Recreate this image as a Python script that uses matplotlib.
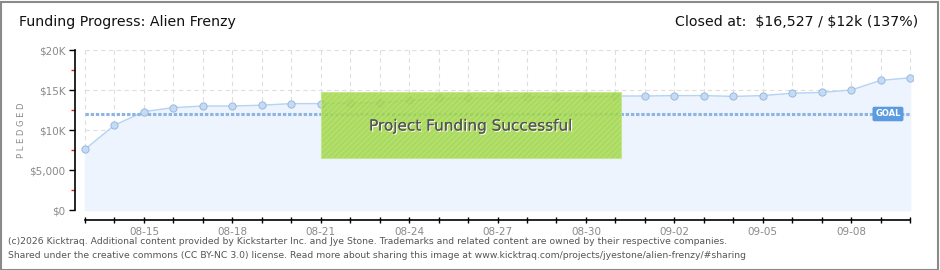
import matplotlib
matplotlib.use("Agg")
import matplotlib.pyplot as plt
import matplotlib.patheffects as pe
from matplotlib.patches import Rectangle
import numpy as np

plt.rcParams["hatch.color"] = "#93c93a"
plt.rcParams["hatch.linewidth"] = 0.6

# ---- data ----
dates = ["08-13", "08-14", "08-15", "08-16", "08-17", "08-18", "08-19", "08-20",
         "08-21", "08-22", "08-23", "08-24", "08-25", "08-26", "08-27", "08-28",
         "08-29", "08-30", "08-31", "09-01", "09-02", "09-03", "09-04", "09-05",
         "09-06", "09-07", "09-08", "09-09", "09-10"]
pledged = [7600, 10600, 12300, 12800, 13000, 13000, 13100, 13300,
           13300, 13400, 13400, 13700, 13950, 13950, 13950, 14100,
           14100, 14100, 14250, 14250, 14300, 14300, 14200, 14300,
           14600, 14700, 15000, 16200, 16527]
goal = 12000
ytick_vals = [0, 5000, 10000, 15000, 20000]
ytick_labels = ["$0", "$5,000", "$10K", "$15K", "$20K"]
success_start, success_end = "08-21", "08-31"
success_low, success_high = 6500, 14750

title = "Funding Progress: Alien Frenzy"
closed = r"Closed at:  \$16,527 / \$12k (137%)"
footer1 = ("(c)2026 Kicktraq. Additional content provided by Kickstarter Inc. and Jye Stone. "
           "Trademarks and related content are owned by their respective companies.")
footer2 = ("Shared under the creative commons (CC BY-NC 3.0) license. Read more about sharing "
           "this image at www.kicktraq.com/projects/jyestone/alien-frenzy/#sharing")

W, H = 940, 270
fig = plt.figure(figsize=(W / 100, H / 100), dpi=100)
fig.patch.set_facecolor("white")

# border
fig.add_artist(Rectangle((0.5 / W, 0.5 / H), 1 - 2.5 / W, 1 - 2.5 / H, transform=fig.transFigure,
                         fill=False, edgecolor="#8a8a8a", linewidth=1.5))

ax = fig.add_axes([75 / W, 1 - 220 / H, 838 / W, (220 - 50) / H])
x = np.arange(len(dates))
ax.set_xlim(-0.34, len(dates) - 1 + 0.1)
ax.set_ylim(-1250, 20000)

# grid
for xi in x:
    ax.plot([xi, xi], [0, 20000], color="#dedede", lw=0.8, dashes=(4, 3), zorder=1)
for yv in ytick_vals:
    ax.plot([x[0], x[-1]], [yv, yv], color="#dedede", lw=0.8, dashes=(4, 3), zorder=1)

ax.fill_between(x, pledged, 0, color="#edf4fd", zorder=2)
ax.plot(x, pledged, color="#b5d3f3", lw=1.0, zorder=3)
ax.plot(x, pledged, "o", ms=5.2, mfc="#c3dbf6", mec="#9bb8da", mew=0.7, zorder=4)

# goal line
ax.plot([x[0], x[-1]], [goal, goal], color="#8db4e2", lw=2.2, dashes=(1.1, 0.6),
        solid_capstyle="butt", dash_capstyle="butt", zorder=3)
ax.text(len(dates) - 1.75, goal, "GOAL", color="white", fontsize=6, fontweight="bold",
        ha="center", va="center", zorder=6,
        bbox=dict(boxstyle="round,pad=0.25,rounding_size=0.15", fc="#5b9be0", ec="#5b9be0"))

# success box
xs = dates.index(success_start)
xe = dates.index(success_end) + 0.2
ax.add_patch(Rectangle((xs, success_low), xe - xs, success_high - success_low,
                       facecolor="#9fd642", edgecolor="#c2e58a", lw=0.8, alpha=0.85,
                       hatch="//////", zorder=5))
ax.text((xs + xe) / 2, 10500, "Project Funding Successful", ha="center", va="center",
        fontsize=11, color="#555555", zorder=7,
        path_effects=[pe.withSimplePatchShadow(offset=(0.8, -0.8), shadow_rgbFace="white", alpha=1),
                      pe.Normal()])

# spines
for s in ["top", "right"]:
    ax.spines[s].set_visible(False)
ax.spines["left"].set_bounds(0, 20000)
ax.spines["bottom"].set_bounds(x[0], x[-1])
ax.spines["left"].set_linewidth(1.2)
ax.spines["bottom"].set_linewidth(1.2)
ax.spines["bottom"].set_position(("data", -1250))

ax.set_yticks(ytick_vals)
ax.set_yticklabels(ytick_labels)
ax.set_yticks([2500, 7500, 12500, 17500], minor=True)
ax.tick_params(axis="y", which="major", length=4, width=1, color="black",
               labelsize=7.5, labelcolor="#8a8a8a", pad=3)
ax.tick_params(axis="y", which="minor", length=3, width=1, color="#e02020")

ax.set_xticks(x)
ax.set_xticklabels([d if (i - 2) % 3 == 0 else "" for i, d in enumerate(dates)])
ax.tick_params(axis="x", which="major", length=4, width=1, color="black", direction="inout",
               labelsize=7.5, labelcolor="#8a8a8a", pad=3)

ax.set_facecolor("white")
fig.text(21 / W, 1 - 130 / H, "P L E D G E D", rotation=90, ha="center", va="center",
         fontsize=6, color="#8a8a8a")

fig.text(19 / W, 1 - 22 / H, title, fontsize=10.2, color="#111111", ha="left", va="center",
         family="DejaVu Sans")
fig.text(918 / W, 1 - 22 / H, closed, fontsize=10.2, color="#111111", ha="right", va="center",
         family="DejaVu Sans")

fig.text(8 / W, 1 - 242 / H, footer1, fontsize=6.7, color="#555555", ha="left", va="center")
fig.text(8 / W, 1 - 256 / H, footer2, fontsize=6.7, color="#555555", ha="left", va="center")

fig.savefig("out.png", dpi=100, facecolor="white")
